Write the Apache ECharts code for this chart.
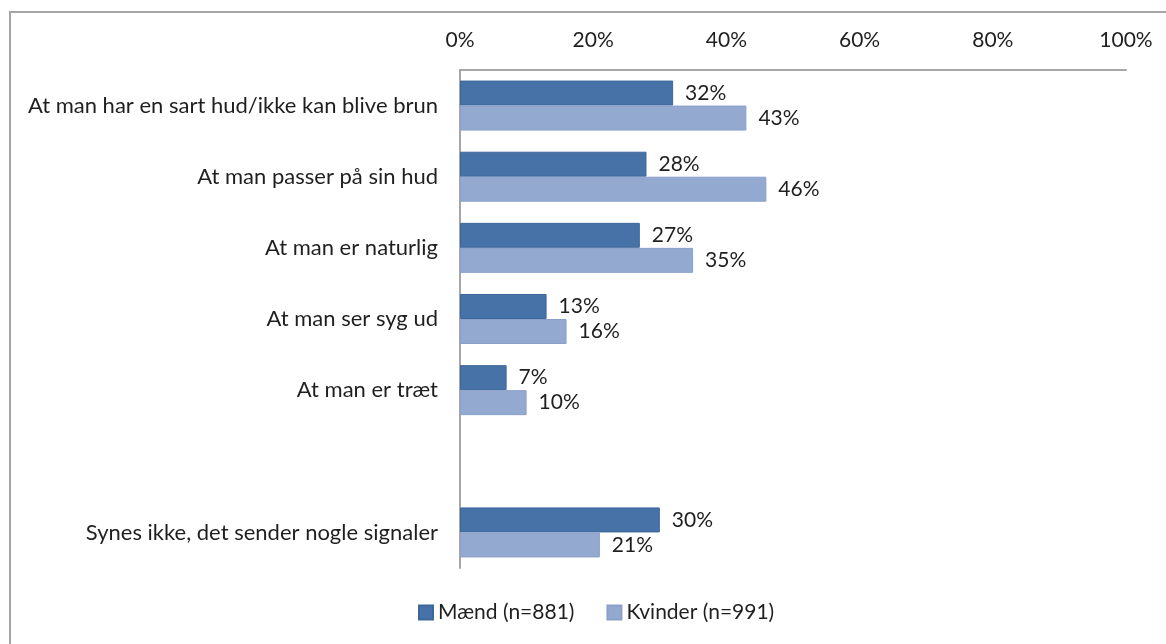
<!DOCTYPE html>
<html>
<head>
<meta charset="utf-8">
<script src="https://cdn.jsdelivr.net/npm/echarts@6/dist/echarts.min.js"></script>
<style>
    html, body {margin: 0; padding: 0; background: #fff;}
    #wrap {position: relative; width: 1166px; height: 644px; overflow: hidden;}
    #chart {position: absolute; left: 0; top: 0; width: 1166px; height: 644px;}
    /* ramme rundt om diagrammet (kun venstre og top er synlige) */
    #frame {position: absolute; left: 9px; top: 11px; width: 1200px; height: 700px;
        border-left: 2px solid #a6a6a6; border-top: 2px solid #a6a6a6; pointer-events: none;}
</style>
</head>
<body>
<div id="wrap">
    <div id="chart"></div>
    <div id="frame"></div>
</div>
<script>
'use strict';

//kategorier (tom plads før sidste række)
let categories = [
    'At man har en sart hud/ikke kan blive brun',
    'At man passer på sin hud',
    'At man er naturlig',
    'At man ser syg ud',
    'At man er træt',
    '',
    'Synes ikke, det sender nogle signaler'
];
let maend = [32, 28, 27, 13, 7, null, 30];
let kvinder = [43, 46, 35, 16, 10, null, 21];
let seriesNames = ['Mænd (n=881)', 'Kvinder (n=991)'];
let xTicks = [0, 20, 40, 60, 80, 100];

let font = 'Lato, "Open Sans", sans-serif';
let textColor = '#1f1f1f';

let myChart = echarts.init(document.getElementById('chart'), null, {renderer: 'canvas'});

let labelStyle = {
    show: true,
    position: 'right',
    distance: 12,
    formatter: '{c}%',
    fontFamily: font,
    fontSize: 21,
    color: textColor
};

let option = {
    animation: false,
    grid: {left: 460, right: 40, top: 70, bottom: 76, containLabel: false},
    legend: {
        left: 413,
        bottom: 16,
        itemWidth: 14,
        itemHeight: 14,
        itemGap: 32,
        icon: 'rect',
        textStyle: {fontFamily: font, fontSize: 21, color: textColor},
        data: seriesNames
    },
    xAxis: {
        type: 'value',
        position: 'top',
        min: 0,
        max: 100,
        interval: 20,
        axisLine: {show: true, lineStyle: {color: '#a6a6a6', width: 2}},
        axisTick: {show: false},
        splitLine: {show: false},
        axisLabel: {
            margin: 19,
            fontFamily: font,
            fontSize: 21,
            color: textColor,
            formatter: function (v) {
                return xTicks.indexOf(v) > -1 ? v + '%' : '';
            }
        }
    },
    yAxis: {
        type: 'category',
        inverse: true,
        data: categories,
        axisLine: {show: true, lineStyle: {color: '#a6a6a6', width: 2}},
        axisTick: {show: false},
        axisLabel: {margin: 22, fontFamily: font, fontSize: 22, color: textColor}
    },
    series: [{
        name: seriesNames[0],
        type: 'bar',
        data: maend,
        barWidth: 25,
        barGap: '0%',
        itemStyle: {color: '#4672a7', borderColor: '#3d679b', borderWidth: 1},
        label: labelStyle
    }, {
        name: seriesNames[1],
        type: 'bar',
        data: kvinder,
        barWidth: 25,
        itemStyle: {color: '#94a9d0', borderColor: '#8aa0ca', borderWidth: 1},
        label: labelStyle
    }]
};
myChart.setOption(option);
</script>
</body>
</html>
